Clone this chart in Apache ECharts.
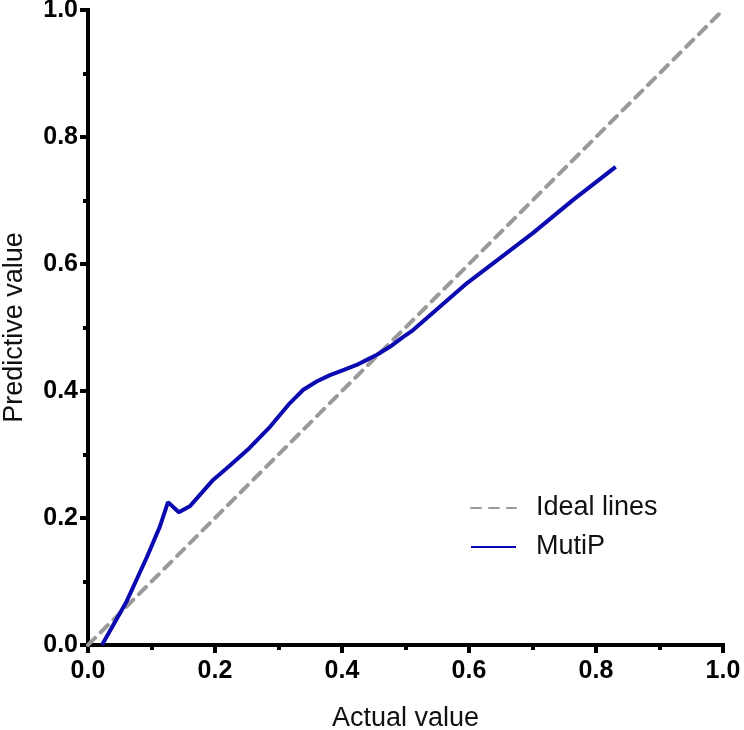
<!DOCTYPE html>
<html>
<head>
<meta charset="utf-8">
<script src="https://cdn.jsdelivr.net/npm/echarts@6/dist/echarts.min.js"></script>
<style>
  html, body { margin: 0; padding: 0; background: #fff; }
  #main { width: 744px; height: 730px; }
</style>
</head>
<body>
<div id="main"></div>
<script>
// values
var idealX = [0, 1];
var idealY = [0, 1];

var mutipX = [0.022, 0.061, 0.093, 0.113, 0.126, 0.143, 0.161, 0.197, 0.224, 0.254, 0.287, 0.318, 0.339, 0.360, 0.381, 0.402, 0.423, 0.439, 0.455, 0.476, 0.496, 0.512, 0.597, 0.701, 0.764, 0.831];
var mutipY = [0.000, 0.069, 0.139, 0.186, 0.225, 0.209, 0.219, 0.260, 0.283, 0.310, 0.344, 0.381, 0.402, 0.415, 0.425, 0.433, 0.441, 0.449, 0.457, 0.470, 0.485, 0.496, 0.570, 0.649, 0.701, 0.753];

var font = 'Liberation Sans, Arial, Helvetica, sans-serif';

function pairs(xs, ys) {
    var out = [];
    for (var i = 0; i < xs.length; i++) {
        out.push([xs[i], ys[i]]);
    }
    return out;
}

var chart = echarts.init(document.getElementById('main'));

function axisCommon(title, gap, labelMargin) {
    return {
        type: 'value',
        min: 0,
        max: 1,
        interval: 0.2,
        name: title,
        nameLocation: 'middle',
        nameGap: gap,
        nameTextStyle: { fontFamily: font, fontSize: 27, color: '#111' },
        axisLine: { show: true, lineStyle: { color: '#000', width: 4, cap: 'square' } },
        axisTick: { show: true, length: 8, lineStyle: { color: '#000', width: 4 } },
        minorTick: { show: true, splitNumber: 2, length: 5, lineStyle: { color: '#000', width: 4 } },
        splitLine: { show: false },
        axisLabel: {
            fontFamily: font,
            fontSize: 25,
            fontWeight: 'bold',
            color: '#000',
            margin: labelMargin,
            formatter: function (v) { return v.toFixed(1); }
        }
    };
}

chart.setOption({
    animation: false,
    backgroundColor: '#fff',
    grid: { left: 88, right: 21, top: 10, bottom: 85, containLabel: false, outerBoundsMode: 'none' },
    xAxis: axisCommon('Actual value', 60, 14),
    yAxis: axisCommon('Predictive value', 60, 10),
    legend: {
        left: 465,
        top: 488,
        orient: 'vertical',
        itemWidth: 45,
        itemHeight: 14,
        itemGap: 9,
        itemStyle: { opacity: 0 },
        textStyle: { fontFamily: font, fontSize: 27, lineHeight: 30, color: '#111', padding: [0, 0, 0, 15] },
        data: ['Ideal lines', 'MutiP']
    },
    series: [
        {
            name: 'Ideal lines',
            type: 'line',
            data: pairs(idealX, idealY),
            symbol: 'none',
            color: '#9a9a9a',
            lineStyle: { color: '#9a9a9a', width: 4, type: [10, 8], cap: 'round' },
            z: 2
        },
        {
            name: 'MutiP',
            type: 'line',
            data: pairs(mutipX, mutipY),
            symbol: 'none',
            smooth: false,
            color: '#0a0ab0',
            lineStyle: { color: '#0a0ab0', width: 4 },
            z: 3
        }
    ]
});
</script>
</body>
</html>
